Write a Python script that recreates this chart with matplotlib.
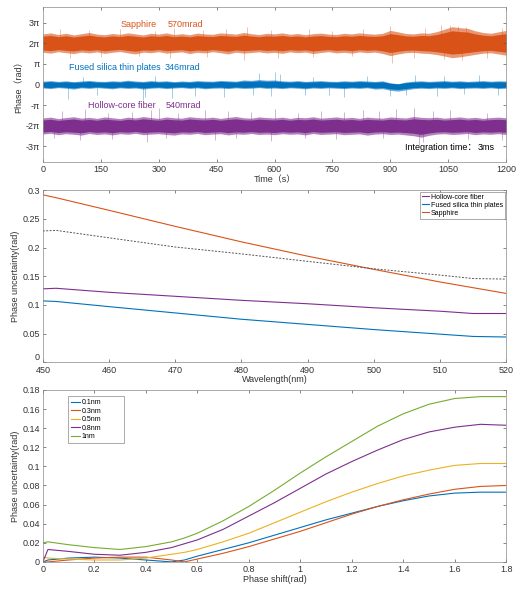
import numpy as np
import matplotlib
matplotlib.use("Agg")
import matplotlib.pyplot as plt

plt.rcParams['font.family'] = ['Liberation Sans', 'Noto Sans CJK SC']
plt.rcParams['font.size'] = 6.5
plt.rcParams['axes.linewidth'] = 0.5
plt.rcParams['xtick.direction'] = 'in'
plt.rcParams['ytick.direction'] = 'in'
plt.rcParams['xtick.major.size'] = 2.5
plt.rcParams['ytick.major.size'] = 2.5
plt.rcParams['xtick.major.width'] = 0.5
plt.rcParams['ytick.major.width'] = 0.5
plt.rcParams['xtick.color'] = '#555555'
plt.rcParams['ytick.color'] = '#555555'
plt.rcParams['xtick.labelcolor'] = '#333333'
plt.rcParams['ytick.labelcolor'] = '#333333'
plt.rcParams['axes.edgecolor'] = '#888888'

BLUE = '#0072BD'
ORANGE = '#D95319'
YELLOW = '#EDB120'
PURPLE = '#7E2F8E'
GREEN = '#77AC30'

# === Phase drift traces (envelopes every 20 s, in units of pi from the centre) ===
t_env = list(range(0, 1201, 20))

sapphire_center = 2
sapphire_up = [0.45, 0.50, 0.42, 0.48, 0.40, 0.46, 0.52, 0.44, 0.41, 0.47, 0.43, 0.50, 0.45, 0.40, 0.48,
               0.44, 0.50, 0.42, 0.46, 0.41, 0.49, 0.45, 0.43, 0.50, 0.47, 0.44, 0.52, 0.46, 0.42, 0.48,
               0.45, 0.50, 0.43, 0.47, 0.41, 0.46, 0.49, 0.44, 0.42, 0.48, 0.45, 0.50, 0.46, 0.44, 0.48,
               0.62, 0.55, 0.47, 0.45, 0.50, 0.48, 0.56, 0.68, 0.80, 0.75, 0.72, 0.60, 0.52, 0.48, 0.55, 0.62]
sapphire_lo = [-0.44, -0.48, -0.41, -0.46, -0.50, -0.43, -0.47, -0.42, -0.49, -0.44, -0.40, -0.47, -0.52, -0.43, -0.46,
               -0.41, -0.48, -0.45, -0.42, -0.50, -0.44, -0.47, -0.41, -0.46, -0.52, -0.43, -0.48, -0.45, -0.42, -0.47,
               -0.44, -0.49, -0.42, -0.46, -0.43, -0.50, -0.45, -0.41, -0.47, -0.44, -0.48, -0.42, -0.46, -0.43, -0.50,
               -0.60, -0.52, -0.46, -0.44, -0.48, -0.50, -0.55, -0.62, -0.70, -0.66, -0.60, -0.54, -0.48, -0.46, -0.52, -0.58]

silica_center = 0
silica_up = [0.16, 0.19, 0.15, 0.18, 0.14, 0.17, 0.20, 0.16, 0.15, 0.18, 0.16, 0.21, 0.17, 0.15, 0.19,
             0.16, 0.18, 0.14, 0.17, 0.15, 0.19, 0.17, 0.16, 0.20, 0.18, 0.16, 0.22, 0.20, 0.24, 0.21,
             0.22, 0.18, 0.16, 0.19, 0.15, 0.17, 0.19, 0.16, 0.15, 0.18, 0.16, 0.19, 0.17, 0.15, 0.18,
             0.08, 0.04, 0.12, 0.16, 0.18, 0.15, 0.17, 0.19, 0.16, 0.18, 0.15, 0.17, 0.19, 0.16, 0.18, 0.17]
silica_lo = [-0.17, -0.20, -0.15, -0.18, -0.22, -0.16, -0.19, -0.15, -0.18, -0.21, -0.16, -0.19, -0.17, -0.22, -0.18,
             -0.16, -0.20, -0.17, -0.15, -0.19, -0.16, -0.21, -0.18, -0.17, -0.20, -0.16, -0.19, -0.18, -0.15, -0.19,
             -0.17, -0.20, -0.16, -0.18, -0.21, -0.17, -0.19, -0.16, -0.18, -0.20, -0.17, -0.19, -0.16, -0.22, -0.20,
             -0.28, -0.32, -0.26, -0.20, -0.18, -0.20, -0.17, -0.19, -0.16, -0.20, -0.18, -0.17, -0.19, -0.16, -0.20, -0.18]

fiber_center = -2
fiber_up = [0.38, 0.42, 0.35, 0.40, 0.44, 0.37, 0.41, 0.36, 0.43, 0.39, 0.35, 0.42, 0.38, 0.45, 0.40,
            0.36, 0.43, 0.39, 0.37, 0.44, 0.40, 0.38, 0.42, 0.36, 0.41, 0.45, 0.39, 0.37, 0.43, 0.40,
            0.38, 0.42, 0.36, 0.41, 0.39, 0.44, 0.37, 0.40, 0.43, 0.38, 0.41, 0.36, 0.42, 0.39, 0.37,
            0.43, 0.40, 0.38, 0.45, 0.41, 0.39, 0.42, 0.37, 0.40, 0.43, 0.38, 0.41, 0.36, 0.40, 0.42, 0.39]
fiber_lo = [-0.40, -0.36, -0.43, -0.38, -0.41, -0.45, -0.37, -0.42, -0.39, -0.44, -0.38, -0.41, -0.36, -0.43, -0.40,
            -0.38, -0.42, -0.45, -0.39, -0.41, -0.37, -0.43, -0.40, -0.38, -0.44, -0.39, -0.41, -0.37, -0.42, -0.40,
            -0.43, -0.38, -0.41, -0.39, -0.44, -0.37, -0.42, -0.40, -0.38, -0.43, -0.41, -0.39, -0.45, -0.40, -0.38,
            -0.42, -0.40, -0.44, -0.48, -0.55, -0.46, -0.40, -0.38, -0.42, -0.40, -0.37, -0.43, -0.39, -0.41, -0.38, -0.42]

# spikes: (time s, excursion in units of pi from the centre)
sapphire_spikes = [(45, 0.70), (120, 0.65), (200, 0.70), (290, 0.60), (340, 0.75), (415, 0.62), (475, 0.70),
                   (530, 0.78), (590, 0.65), (690, 0.70), (750, 0.60), (830, 0.68), (900, 0.85), (990, 0.75),
                   (1030, 0.90), (1055, 0.88), (1075, 0.85), (1095, 0.80), (1190, 0.75),
                   (70, -0.70), (150, -0.65), (250, -0.60), (330, -0.72), (425, -0.65), (520, -0.80),
                   (610, -0.70), (700, -0.65), (800, -0.60), (905, -0.95), (960, -0.70), (1040, -0.78),
                   (1085, -0.80), (1150, -0.70)]
silica_spikes = [(65, -0.70), (140, -0.50), (260, -0.75), (265, -0.60), (335, -0.65), (395, -0.55),
                 (470, -0.60), (545, -0.50), (590, -0.55), (680, -0.50), (740, -0.50), (780, -0.60),
                 (900, -0.55), (940, -0.50), (1020, -0.55), (1090, -0.45), (1180, -0.50),
                 (105, 0.35), (290, 0.40), (560, 0.55), (600, 0.60), (615, 0.50), (700, 0.35),
                 (840, 0.40), (965, 0.45), (1040, 0.40), (1130, 0.45)]
fiber_spikes = [(50, 0.70), (110, 0.80), (170, 0.60), (230, 0.65), (280, 0.75), (300, 0.85), (350, 0.60),
                (420, 0.75), (480, 0.70), (540, 0.65), (600, 0.80), (660, 0.60), (720, 0.70), (780, 0.65),
                (830, 0.75), (870, 0.70), (915, 0.80), (960, 0.85), (1010, 0.70), (1055, 0.75), (1150, 0.60),
                (30, -0.60), (95, -0.70), (180, -0.65), (270, -0.80), (320, -0.60), (445, -0.70), (500, -0.60),
                (590, -0.75), (680, -0.60), (760, -0.65), (880, -0.60), (975, -0.95), (985, -0.80),
                (1100, -0.65), (1190, -0.70)]

# === Phase uncertainty vs wavelength ===
wavelength = [450, 452, 460, 470, 480, 490, 500, 510, 515, 520]
fiber_unc = [0.128, 0.129, 0.122, 0.115, 0.108, 0.102, 0.095, 0.089, 0.085, 0.085]
silica_unc = [0.107, 0.106, 0.097, 0.086, 0.075, 0.066, 0.057, 0.049, 0.045, 0.044]
sapphire_unc = [0.292, 0.287, 0.265, 0.237, 0.210, 0.185, 0.162, 0.140, 0.130, 0.120]
ref_unc = [0.229, 0.230, 0.217, 0.201, 0.189, 0.176, 0.163, 0.152, 0.146, 0.145]

# === Phase uncertainty vs phase shift ===
shift = [0, 0.02, 0.1, 0.2, 0.3, 0.4, 0.5, 0.55, 0.6, 0.7, 0.8, 0.9, 1.0,
         1.1, 1.2, 1.3, 1.4, 1.5, 1.6, 1.7, 1.8]
bw_labels = ['0.1nm', '0.3nm', '0.5nm', '0.8nm', '1nm']
bw_curves = [
    [0.0, 0.002, 0.004, 0.005, 0.004, 0.002, 0.000, 0.002, 0.006, 0.013, 0.020, 0.028, 0.036,
     0.044, 0.051, 0.058, 0.064, 0.069, 0.072, 0.073, 0.073],
    [0.0, 0.000, 0.002, 0.004, 0.005, 0.005, 0.002, 0.000, 0.003, 0.009, 0.016, 0.024, 0.032,
     0.041, 0.050, 0.058, 0.065, 0.071, 0.076, 0.079, 0.080],
    [0.005, 0.004, 0.003, 0.002, 0.002, 0.004, 0.008, 0.010, 0.013, 0.021, 0.030, 0.041, 0.052,
     0.063, 0.073, 0.082, 0.090, 0.096, 0.101, 0.103, 0.103],
    [0.0, 0.013, 0.011, 0.008, 0.007, 0.010, 0.015, 0.019, 0.023, 0.034, 0.048, 0.062, 0.077,
     0.092, 0.105, 0.117, 0.128, 0.136, 0.141, 0.144, 0.143],
    [0.020, 0.021, 0.018, 0.015, 0.013, 0.016, 0.021, 0.025, 0.030, 0.043, 0.058, 0.075, 0.093,
     0.110, 0.126, 0.142, 0.155, 0.165, 0.171, 0.173, 0.173],
]
bw_colors = [BLUE, ORANGE, YELLOW, PURPLE, GREEN]

fig = plt.figure(figsize=(5.16, 5.89), dpi=100)
ax1 = fig.add_axes([0.083, 0.725, 0.898, 0.263])
ax2 = fig.add_axes([0.083, 0.385, 0.898, 0.292])
ax3 = fig.add_axes([0.083, 0.046, 0.898, 0.292])

for ax in (ax1, ax2, ax3):
    ax.tick_params(top=True, right=True, pad=2)

# --- top: phase traces ---
t = np.array(t_env)
traces = [(sapphire_center, sapphire_up, sapphire_lo, sapphire_spikes, ORANGE),
          (silica_center, silica_up, silica_lo, silica_spikes, BLUE),
          (fiber_center, fiber_up, fiber_lo, fiber_spikes, PURPLE)]
for c, up, lo, spikes, col in traces:
    up = np.array(up)
    lo = np.array(lo)
    # lighter outer edge, solid core
    ax1.fill_between(t, (c + lo) * np.pi, (c + up) * np.pi, color=col, lw=0, alpha=0.6)
    ax1.fill_between(t, (c + 0.75 * lo) * np.pi, (c + 0.75 * up) * np.pi, color=col, lw=0, alpha=1.0)
    st = [s[0] for s in spikes]
    se = [(c + s[1]) * np.pi for s in spikes]
    ax1.vlines(st, c * np.pi, se, color=col, lw=0.5, alpha=0.5)

ax1.set_xlim(0, 1200)
ax1.set_ylim(-3.75 * np.pi, 3.75 * np.pi)
ax1.set_xticks(range(0, 1201, 150))
ax1.set_yticks([k * np.pi for k in range(-3, 4)])
ax1.set_yticklabels(['-3π', '-2π', '-π', '0', 'π', '2π', '3π'])
ax1.set_xlabel('Time（s）', labelpad=1, color='#333333')
ax1.set_ylabel('Phase（rad）', labelpad=2, color='#333333')

ax1.text(200, 2.9 * np.pi, 'Sapphire', color=ORANGE, fontsize=6.5, va='center')
ax1.text(322, 2.9 * np.pi, '570mrad', color=ORANGE, fontsize=6.5, va='center')
ax1.text(67, 0.84 * np.pi, 'Fused silica thin plates', color=BLUE, fontsize=6.5, va='center')
ax1.text(316, 0.84 * np.pi, '346mrad', color=BLUE, fontsize=6.5, va='center')
ax1.text(117, -1.0 * np.pi, 'Hollow-core fiber', color=PURPLE, fontsize=6.5, va='center')
ax1.text(318, -1.0 * np.pi, '540mrad', color=PURPLE, fontsize=6.5, va='center')
ax1.text(938, -3.07 * np.pi, 'Integration time：', color='black', fontsize=6.5, va='center')
ax1.text(1125, -3.07 * np.pi, '3ms', color='black', fontsize=6.5, va='center')

# --- middle: uncertainty vs wavelength ---
ax2.plot(wavelength, fiber_unc, color=PURPLE, lw=0.8, label='Hollow-core fiber')
ax2.plot(wavelength, silica_unc, color=BLUE, lw=0.8, label='Fused silica thin plates')
ax2.plot(wavelength, sapphire_unc, color=ORANGE, lw=0.8, label='Sapphire')
ax2.plot(wavelength, ref_unc, color='#555555', lw=0.7, ls=(0, (2, 1.5)))
ax2.set_xlim(450, 520)
ax2.set_ylim(0, 0.3)
ax2.set_yticks([0, 0.05, 0.1, 0.15, 0.2, 0.25, 0.3])
ax2.set_yticklabels(['0', '0.05', '0.1', '0.15', '0.2', '0.25', '0.3'])
ax2.tick_params(axis='x', pad=3)
ax2.get_yticklabels()[0].set_verticalalignment('bottom')
ax2.set_xlabel('Wavelength(nm)', labelpad=0, color='#333333')
ax2.set_ylabel('Phase uncertainty(rad)', labelpad=2, color='#333333')
leg = ax2.legend(loc='upper right', fontsize=5, handlelength=1.0, handletextpad=0.2,
                 borderpad=0.3, labelspacing=0.15, fancybox=False, framealpha=1,
                 borderaxespad=0.2)
leg.get_frame().set_linewidth(0.5)
leg.get_frame().set_edgecolor('#888888')

# --- bottom: uncertainty vs phase shift ---
for lab, ys, col in zip(bw_labels, bw_curves, bw_colors):
    ax3.plot(shift, ys, color=col, lw=0.8, label=lab)
ax3.set_xlim(0, 1.8)
ax3.set_ylim(0, 0.18)
ax3.set_xticks([0, 0.2, 0.4, 0.6, 0.8, 1.0, 1.2, 1.4, 1.6, 1.8])
ax3.set_xticklabels(['0', '0.2', '0.4', '0.6', '0.8', '1', '1.2', '1.4', '1.6', '1.8'])
ax3.set_yticks([0, 0.02, 0.04, 0.06, 0.08, 0.1, 0.12, 0.14, 0.16, 0.18])
ax3.set_yticklabels(['0', '0.02', '0.04', '0.06', '0.08', '0.1', '0.12', '0.14', '0.16', '0.18'])
ax3.set_xlabel('Phase shift(rad)', labelpad=1, color='#333333')
ax3.set_ylabel('Phase uncertainty(rad)', labelpad=2, color='#333333')
leg3 = ax3.legend(loc='upper left', bbox_to_anchor=(0.054, 0.0, 0.121, 0.965), mode='expand',
                  fontsize=5, handlelength=1.2, handletextpad=0.3, borderpad=0.5,
                  labelspacing=0.2, fancybox=False, framealpha=1, borderaxespad=0)
leg3.get_frame().set_linewidth(0.5)
leg3.get_frame().set_edgecolor('#888888')

fig.savefig('out.png', dpi=100)
